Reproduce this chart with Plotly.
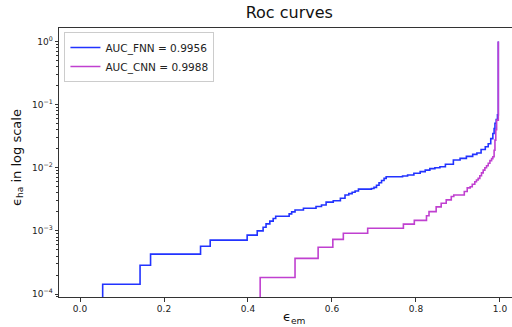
import plotly.graph_objects as go

# FNN ROC curve (x: eps_em, y: eps_ha), step points
fnn_x = [0.054, 0.054, 0.143, 0.168, 0.287, 0.31, 0.398, 0.422, 0.436, 0.443, 0.452, 0.46,
         0.466, 0.498, 0.504, 0.512, 0.532, 0.562, 0.575, 0.586, 0.603, 0.62, 0.631, 0.64,
         0.648, 0.655, 0.663, 0.694, 0.70, 0.706, 0.712, 0.718, 0.724, 0.729, 0.768, 0.78,
         0.795, 0.81, 0.822, 0.833, 0.845, 0.857, 0.87, 0.889, 0.905, 0.92, 0.935, 0.945,
         0.955, 0.965, 0.972, 0.978, 0.983, 0.986, 0.988, 0.991, 0.994, 0.996]
fnn_y = [0.00005, 0.000143, 0.000286, 0.000429, 0.000571, 0.000714, 0.000857, 0.001, 0.00114,
         0.00129, 0.00143, 0.00157, 0.00171, 0.00186, 0.002, 0.00214, 0.00229, 0.00243,
         0.00257, 0.00286, 0.003, 0.00329, 0.00371, 0.0039, 0.0041, 0.0043, 0.0046, 0.0047,
         0.0049, 0.0053, 0.0058, 0.0063, 0.0068, 0.0072, 0.0074, 0.0077, 0.0082, 0.0087,
         0.0092, 0.0097, 0.0100, 0.0104, 0.0114, 0.0133, 0.0141, 0.0152, 0.0163, 0.0172,
         0.0195, 0.0215, 0.024, 0.029, 0.035, 0.042, 0.0507, 0.058, 0.069, 1.0]

# CNN ROC curve
cnn_x = [0.429, 0.429, 0.512, 0.567, 0.602, 0.627, 0.685, 0.77, 0.796, 0.825, 0.831, 0.848,
         0.86, 0.872, 0.884, 0.89, 0.915, 0.922, 0.929, 0.934, 0.94, 0.944, 0.948, 0.952,
         0.956, 0.96, 0.964, 0.968, 0.972, 0.976, 0.98, 0.983, 0.986, 0.988, 0.99, 0.992,
         0.996]
cnn_y = [0.00005, 0.000183, 0.000367, 0.00055, 0.000734, 0.000917, 0.0011, 0.00128, 0.00147,
         0.00174, 0.00202, 0.0024, 0.00275, 0.0031, 0.0035, 0.0037, 0.0042, 0.0048, 0.005,
         0.0055, 0.006, 0.0064, 0.0068, 0.0075, 0.0083, 0.0092, 0.01, 0.0108, 0.0118,
         0.013, 0.014, 0.015, 0.019, 0.0275, 0.04, 0.057, 1.0]

x_ticks = [0.0, 0.2, 0.4, 0.6, 0.8, 1.0]
y_ticks = [1e-4, 1e-3, 1e-2, 1e-1, 1e0]
y_tick_labels = ["10<sup>−4</sup>", "10<sup>−3</sup>", "10<sup>−2</sup>", "10<sup>−1</sup>", "10<sup>0</sup>"]
y_minor = [m * 10.0 ** e for e in range(-5, 1) for m in range(2, 10)]

FONT = "DejaVu Sans"

fig = go.Figure()
fig.add_trace(go.Scatter(x=fnn_x, y=fnn_y, mode="lines", line_shape="hv",
                         line=dict(color="#2233ff", width=1.6), name="AUC_FNN = 0.9956"))
fig.add_trace(go.Scatter(x=cnn_x, y=cnn_y, mode="lines", line_shape="hv",
                         line=dict(color="#c040d0", width=1.6), name="AUC_CNN = 0.9988"))

fig.update_layout(
    width=512, height=327,
    margin=dict(l=59, r=0, t=28, b=30, autoexpand=False),
    paper_bgcolor="white", plot_bgcolor="white",
    font=dict(family=FONT, color="#222", size=9),
    title=dict(text="Roc curves", x=0.565, xanchor="center", y=0.963, yanchor="middle",
               font=dict(size=16, family=FONT, color="#111")),
    showlegend=True,
    legend=dict(x=0.012, y=0.985, xanchor="left", yanchor="top",
                bgcolor="rgba(255,255,255,0.9)", bordercolor="#cccccc", borderwidth=1,
                font=dict(size=10.5, family=FONT, color="#222"),
                tracegroupgap=0, itemwidth=30),
    xaxis=dict(range=[-0.05, 1.0286], tickvals=x_ticks, tickformat=".1f", automargin=False,
               showgrid=False, zeroline=False, showline=True, linecolor="#333",
               linewidth=1, mirror=True, ticks="outside", ticklen=3.5, tickcolor="#333"),
    yaxis=dict(type="log", range=[-4.0475, 0.2155], tickvals=y_ticks, ticktext=y_tick_labels,
               automargin=False,
               showgrid=False, zeroline=False, showline=True, linecolor="#333", linewidth=1,
               ticks="outside", ticklen=3.5, tickcolor="#333",
               minor=dict(ticks="outside", ticklen=2, tickcolor="#333", tickvals=y_minor, showgrid=False)),
    annotations=[
        dict(text="ϵ<sub>em</sub>", xref="paper", yref="paper", x=0.52, y=-0.078,
             xanchor="center", yanchor="middle", showarrow=False,
             font=dict(size=13, family=FONT, color="#111")),
        dict(text="ϵ<sub>ha</sub> in log scale", xref="paper", yref="paper", x=-0.093, y=0.52,
             xanchor="center", yanchor="middle", textangle=-90, showarrow=False,
             font=dict(size=13, family=FONT, color="#111")),
    ],
)

fig.write_html("out.html", config={"displayModeBar": False},
               post_script="document.body.style.margin='0';document.body.style.overflow='hidden';")
